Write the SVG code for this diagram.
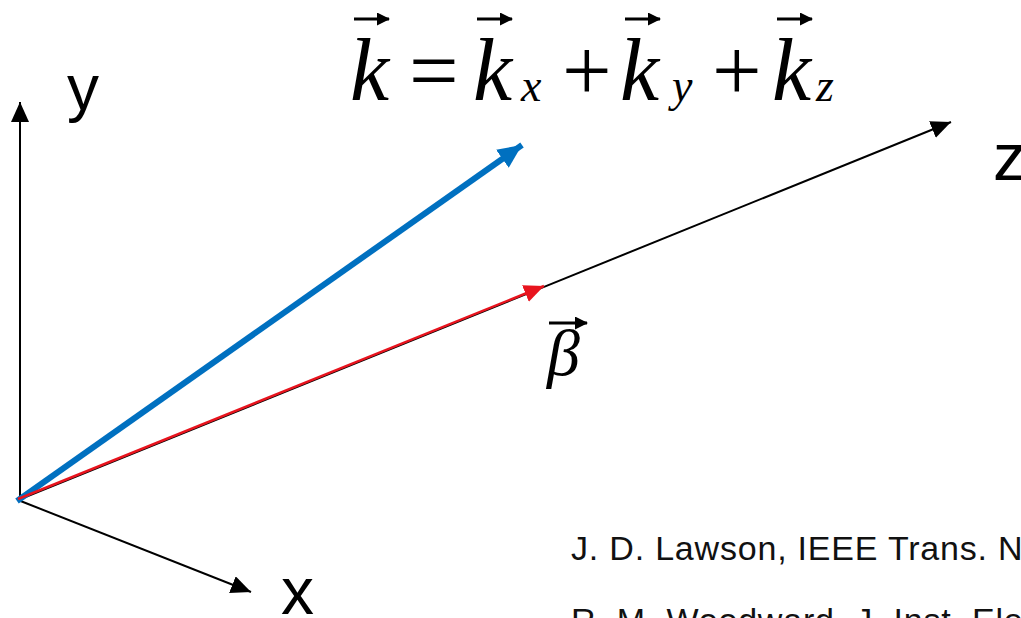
<svg xmlns="http://www.w3.org/2000/svg" width="1021" height="618" viewBox="0 0 1021 618">
<style>
.ax{stroke:#000;stroke-width:2;fill:none}
.lbl{font-family:"Liberation Sans",Arial,sans-serif;fill:#000}
.cite{font-family:"Liberation Sans",Arial,sans-serif;fill:#111;font-size:34px;letter-spacing:0.8px}
.math{font-family:"Liberation Serif","Times New Roman",serif;fill:#000}
.it{font-style:italic}
.vec{stroke:#000;stroke-width:3;fill:none}
</style>
<defs>
<marker id="ah" markerUnits="userSpaceOnUse" markerWidth="22" markerHeight="18" refX="20" refY="9" orient="auto">
<path d="M0,0 L20,9 L0,18 Z" fill="#000"/>
</marker>
<marker id="ahb" markerUnits="userSpaceOnUse" markerWidth="26" markerHeight="22" refX="24" refY="11" orient="auto">
<path d="M0,0 L24,11 L0,22 Z" fill="#0070C0"/>
</marker>
<marker id="ahr" markerUnits="userSpaceOnUse" markerWidth="22" markerHeight="18" refX="20" refY="9" orient="auto">
<path d="M0,0 L20,9 L0,18 Z" fill="#E8141E"/>
</marker>
<marker id="vh" markerUnits="userSpaceOnUse" markerWidth="14" markerHeight="13" refX="12" refY="6.5" orient="auto">
<path d="M0,0 L13,6.5 L0,13 Z" fill="#000"/>
</marker>
</defs>
<g id="connectors">
<line id="axis-y" class="ax" x1="20" y1="501" x2="20" y2="102" marker-end="url(#ah)"/>
<line id="axis-x" class="ax" x1="18" y1="500" x2="251" y2="592" marker-end="url(#ah)"/>
<line id="axis-z" class="ax" x1="18" y1="500" x2="951" y2="122" marker-end="url(#ah)"/>
<line id="vec-k" x1="17" y1="501" x2="522" y2="145" stroke="#0070C0" stroke-width="6" marker-end="url(#ahb)"/>
<line id="vec-beta" x1="18" y1="499" x2="544" y2="286" stroke="#E8141E" stroke-width="2.5" marker-end="url(#ahr)"/>
</g>
<g id="label-y"><text class="lbl" x="67" y="110" font-size="64">y</text></g>
<g id="label-x"><text class="lbl" x="281" y="614" font-size="66">x</text></g>
<g id="label-z"><text class="lbl" x="993" y="180" font-size="66">z</text></g>
<g id="equation">
<text class="math it" x="350" y="100" font-size="88">k</text>
<line class="vec" x1="354" y1="19" x2="389" y2="19" marker-end="url(#vh)"/>
<text class="math" x="409" y="100" font-size="88">=</text>
<text class="math it" x="473" y="100" font-size="88">k</text>
<line class="vec" x1="477" y1="19" x2="512" y2="19" marker-end="url(#vh)"/>
<text class="math it" x="521" y="101" font-size="46">x</text>
<text class="math" x="562" y="100" font-size="88">+</text>
<text class="math it" x="620" y="100" font-size="88">k</text>
<line class="vec" x1="625" y1="19" x2="660" y2="19" marker-end="url(#vh)"/>
<text class="math it" x="672" y="101" font-size="46">y</text>
<text class="math" x="712" y="100" font-size="88">+</text>
<text class="math it" x="772" y="100" font-size="88">k</text>
<line class="vec" x1="777" y1="19" x2="812" y2="19" marker-end="url(#vh)"/>
<text class="math it" x="816" y="101" font-size="46">z</text>
</g>
<g id="label-beta">
<text class="math it" x="547" y="375" font-size="66">β</text>
<line class="vec" x1="549" y1="323" x2="587" y2="323" stroke-width="2.5" marker-end="url(#vh)"/>
</g>
<g id="citations">
<text class="cite" x="571" y="560">J. D. Lawson, IEEE Trans. Nu</text>
<text class="cite" x="571" y="632">R. M. Woodward, J. Inst. Ele</text>
</g>
</svg>
